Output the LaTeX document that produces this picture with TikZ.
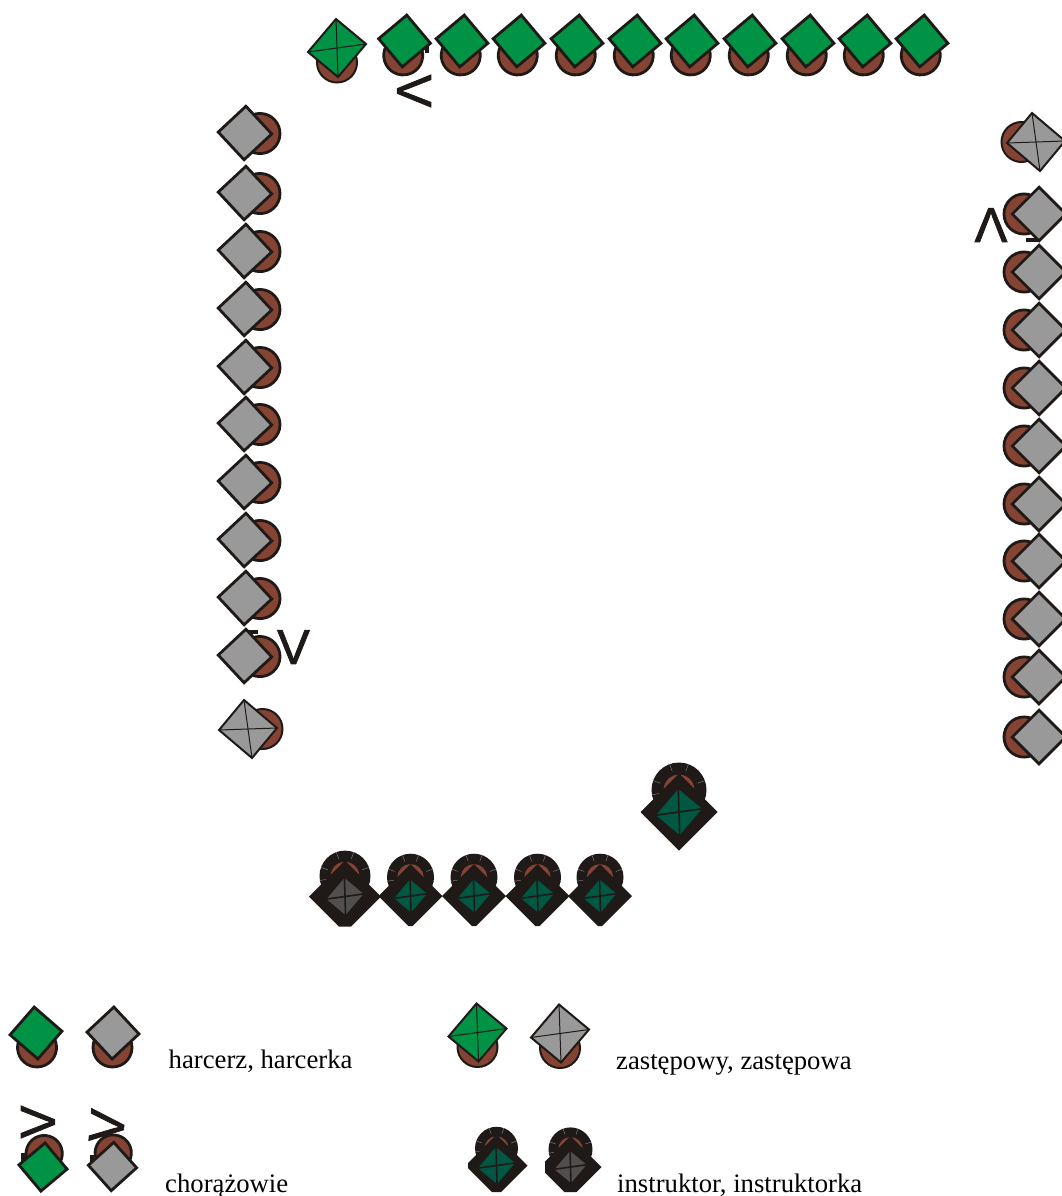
\documentclass[tikz,border=0pt]{standalone}
\usepackage{fontspec}
\setmainfont{Liberation Serif}
\newfontfamily\rankfont[FakeBold=1.6]{Liberation Sans}
\definecolor{ScoutInk}{RGB}{31,26,23}
\definecolor{ScoutBrown}{RGB}{133,68,51}
\definecolor{ScoutGreen}{RGB}{0,146,69}
\definecolor{ScoutGray}{RGB}{153,153,153}
\definecolor{ScoutTeal}{RGB}{0,87,66}
\definecolor{ScoutSlate}{RGB}{80,78,79}
\tikzset{
  rankmark/.style={font=\rankfont\fontsize{49}{49}\selectfont, text=ScoutInk, inner sep=0pt},
  ranktick/.style={ScoutInk, line width=3.6pt},
  legendtext/.style={font=\fontsize{26.7}{30}\selectfont, anchor=base west, inner sep=0pt},
  toprow/.style={rotate=-5},
  leftfile/.style={rotate=88, scale=1.03},
  rightfile/.style={rotate=-90, scale=1.03},
  % plain figure: head below the diamond, turned by the pic options
  pics/scout/.style={code={
    \draw[ScoutInk, fill=ScoutBrown, line width=2.8pt] (0,14.5) circle (19.5);
    \draw[ScoutInk, fill=#1, line width=2.8pt, line join=miter] (-26,0) -- (0,-26) -- (26,0) -- (0,26) -- cycle;
  }},
  % patrol leader: slightly skewed diamond with a thin cross
  pics/leader/.style={code={
    \draw[ScoutInk, fill=ScoutBrown, line width=2pt] (0,14.5) circle (20);
    \draw[ScoutInk, fill=#1, line width=2pt, line join=miter] (-29,4) -- (-1,-29) -- (29,-4) -- (1,29) -- cycle;
    \draw[ScoutInk, line width=1pt] (-29,4) -- (29,-4);
    \draw[ScoutInk, line width=1pt] (-1,-29) -- (1,29);
  }},
  % instructor: {inner}{outer}{flat}{head}{colour}
  pics/instructor/.style n args={5}{code={
    \fill[ScoutInk] (0,#4*0.8) circle (#4);
    \fill[ScoutBrown] (0,#4*0.8) circle (#4*0.56);
    \foreach \tickangle in {-10,20,70,110,160}
      \draw[gray!60, line width=0.25pt] ($(0,#4*0.8)+(\tickangle:#4*0.72)$) -- ($(0,#4*0.8)+(\tickangle:#4)$);
    \fill[ScoutInk] (-#2,0) -- (-#2+#3,-#3) -- (#2-#3,-#3) -- (#2,0) -- (0,#2) -- cycle;
    \fill[#5] (-#1,#1*0.14) -- (-#1*0.03,-#1) -- (#1,-#1*0.14) -- (#1*0.03,#1) -- cycle;
    \draw[ScoutInk, line width=1.6pt] (-#1,#1*0.14) -- (#1,-#1*0.14);
    \draw[ScoutInk, line width=1.6pt] (-#1*0.03,-#1) -- (#1*0.03,#1);
  }},
}
\usetikzlibrary{calc}

\begin{document}
\begin{tikzpicture}[x=1pt, y=-1pt]
  \useasboundingbox (0,0) rectangle (1062,1196);
  \clip (0,0) rectangle (1062,1196);

  % Rank marks lying under the figures
  \draw[ranktick] (427,53) -- (427,41);
  \draw[ranktick] (245,632) -- (258,632);
  \draw[ranktick] (1026,240) -- (1038,240);
  \draw[ranktick] (23,1153) -- (23,1166);
  \draw[ranktick] (92,1155) -- (92,1166);

  % Top row
  \pic at (337,48) {leader=ScoutGreen};
  \pic[toprow] at (404.5,41) {scout=ScoutGreen};
  \pic[toprow] at (462,41) {scout=ScoutGreen};
  \pic[toprow] at (519,41) {scout=ScoutGreen};
  \pic[toprow] at (577,41) {scout=ScoutGreen};
  \pic[toprow] at (635,41) {scout=ScoutGreen};
  \pic[toprow] at (692,41) {scout=ScoutGreen};
  \pic[toprow] at (750,41) {scout=ScoutGreen};
  \pic[toprow] at (808,41) {scout=ScoutGreen};
  \pic[toprow] at (865,41) {scout=ScoutGreen};
  \pic[toprow] at (922,41) {scout=ScoutGreen};

  % Left file
  \pic[leftfile] at (245,133) {scout=ScoutGray};
  \pic[leftfile] at (245,193) {scout=ScoutGray};
  \pic[leftfile] at (245,251) {scout=ScoutGray};
  \pic[leftfile] at (245,309) {scout=ScoutGray};
  \pic[leftfile] at (245,367) {scout=ScoutGray};
  \pic[leftfile] at (245,424) {scout=ScoutGray};
  \pic[leftfile] at (245,482) {scout=ScoutGray};
  \pic[leftfile] at (245,540) {scout=ScoutGray};
  \pic[leftfile] at (245,598) {scout=ScoutGray};
  \pic[leftfile] at (245,656) {scout=ScoutGray};
  \pic[rotate=90] at (248,729) {leader=ScoutGray};

  % Right file
  \pic[rotate=-90] at (1036,142) {leader=ScoutGray};
  \pic[rightfile] at (1039,214) {scout=ScoutGray};
  \pic[rightfile] at (1039,272) {scout=ScoutGray};
  \pic[rightfile] at (1039,330) {scout=ScoutGray};
  \pic[rightfile] at (1039,388) {scout=ScoutGray};
  \pic[rightfile] at (1039,446) {scout=ScoutGray};
  \pic[rightfile] at (1039,504) {scout=ScoutGray};
  \pic[rightfile] at (1039,561) {scout=ScoutGray};
  \pic[rightfile] at (1039,619) {scout=ScoutGray};
  \pic[rightfile] at (1039,677) {scout=ScoutGray};
  \pic[rightfile] at (1039,737) {scout=ScoutGray};

  % Instructors
  \pic[rotate=180] at (679,812) {instructor={23}{38.5}{38.5}{27.5}{ScoutTeal}};
  \pic[rotate=180] at (345,896.5) {instructor={18.5}{36}{30}{25.5}{ScoutSlate}};
  \pic[rotate=180] at (410.5,896) {instructor={16.5}{32}{30}{23.5}{ScoutTeal}};
  \pic[rotate=180] at (474,896) {instructor={16.5}{32}{30}{23.5}{ScoutTeal}};
  \pic[rotate=180] at (537.5,896) {instructor={16.5}{32}{30}{23.5}{ScoutTeal}};
  \pic[rotate=180] at (600,896) {instructor={16.5}{32}{30}{23.5}{ScoutTeal}};

  % Legend figures
  \pic[rotate=4] at (36,1033) {scout=ScoutGreen};
  \pic[rotate=-2] at (113,1033) {scout=ScoutGray};
  \pic[rotate=175, scale=0.93] at (43,1167) {scout=ScoutGreen};
  \pic[rotate=177, scale=0.93] at (112.5,1166.5) {scout=ScoutGray};
  \pic at (477.5,1032.5) {leader=ScoutGreen};
  \pic at (560,1033.5) {leader=ScoutGray};
  \begin{scope}
    \clip (468,1100) rectangle (540,1196);
    \pic[rotate=180] at (496.5,1165.5) {instructor={18.5}{31}{26.5}{21.5}{ScoutTeal}};
  \end{scope}
  \begin{scope}
    \clip (545,1100) rectangle (620,1196);
    \pic[rotate=180] at (570.5,1167) {instructor={16}{31}{25}{22}{ScoutSlate}};
  \end{scope}

  % Rank letters
  \node[rankmark, rotate=-90] (markTop) at (414,91) {V};
  \node[rankmark] (markLeft) at (293.5,647) {V};
  \node[rankmark, rotate=180] (markRight) at (991,225) {V};
  \node[rankmark, rotate=90] (markLegendA) at (38,1122) {V};
  \node[rankmark, rotate=85] (markLegendB) at (107,1126) {V};

  % Labels
  \node[legendtext] (lblHarcerz) at (168.5,1068) {harcerz, harcerka};
  \node[legendtext] (lblChorazy) at (165,1192) {chorążowie};
  \node[legendtext] (lblZastepowy) at (616,1069) {zastępowy, zastępowa};
  \node[legendtext] (lblInstruktor) at (617,1192) {instruktor, instruktorka};
\end{tikzpicture}
\end{document}
